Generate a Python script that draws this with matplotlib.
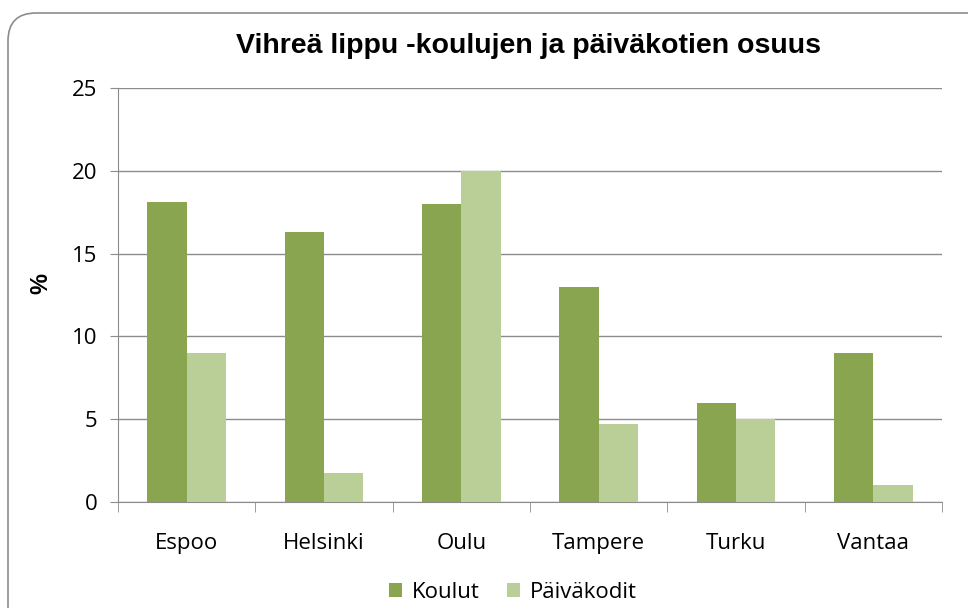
import numpy as np
import matplotlib.pyplot as plt
from matplotlib.patches import FancyBboxPatch

# Data
kaupungit = ["Espoo", "Helsinki", "Oulu", "Tampere", "Turku", "Vantaa"]
koulut = [18.1, 16.3, 18.0, 13.0, 6.0, 9.0]
paivakodit = [9.0, 1.75, 20.0, 4.7, 5.0, 1.0]
yticks = [0, 5, 10, 15, 20, 25]

dark = "#8AA54F"
light = "#BACE98"
grid = "#8C8C8C"

fig = plt.figure(figsize=(9.68, 6.08), dpi=100)
ax = fig.add_axes([118 / 968, 1 - 502 / 608, 824 / 968, 414 / 608])

# Rounded chart frame (pixel coordinates)
frame = FancyBboxPatch((8, -40), 1000, 608 - 13 + 40,
                       boxstyle="round,pad=0,rounding_size=28",
                       transform=None, fill=False,
                       edgecolor="#8C8C8C", linewidth=1.2)
fig.patches.append(frame)

x = np.arange(len(kaupungit))
w = 1 / 3.5
ax.bar(x - w / 2, koulut, width=w, color=dark, label="Koulut", zorder=3)
ax.bar(x + w / 2, paivakodit, width=w, color=light, label="Päiväkodit", zorder=3)

ax.set_xlim(-0.5, len(kaupungit) - 0.5)
ax.set_ylim(0, 25)
ax.set_yticks(yticks)
ax.yaxis.grid(True, color=grid, linewidth=1.0, zorder=0)
ax.set_axisbelow(True)

ax.set_xticks(x)
ax.set_xticklabels(kaupungit, fontsize=16, family="Open Sans")
ax.set_xticks(np.arange(-0.5, len(kaupungit)), minor=True)
ax.tick_params(axis="x", which="major", length=0, pad=22)
ax.tick_params(axis="x", which="minor", length=7, color=grid, direction="out")
ax.tick_params(axis="y", length=6, color=grid, labelsize=16, pad=9)
for lbl in ax.get_yticklabels():
    lbl.set_family("Open Sans")

for s in ["top", "right"]:
    ax.spines[s].set_visible(False)
ax.spines["left"].set_color(grid)
ax.spines["bottom"].set_color(grid)

fig.text(41 / 968, 1 - 284 / 608, "%", rotation=90, ha="center", va="center",
         fontsize=17, fontweight="bold", family="Liberation Sans")

fig.text(529 / 968, 1 - 46 / 608, "Vihreä lippu -koulujen ja päiväkotien osuus",
         ha="center", va="center", fontsize=20.5, fontweight="bold", family="Liberation Sans")

fig.legend(loc="center", bbox_to_anchor=(513 / 968, 1 - 592 / 608), ncol=2, frameon=False,
           prop={"family": "Open Sans", "size": 16}, handlelength=0.6, handleheight=0.6,
           handletextpad=0.45, columnspacing=1.2)

fig.savefig("out.png", dpi=100)
